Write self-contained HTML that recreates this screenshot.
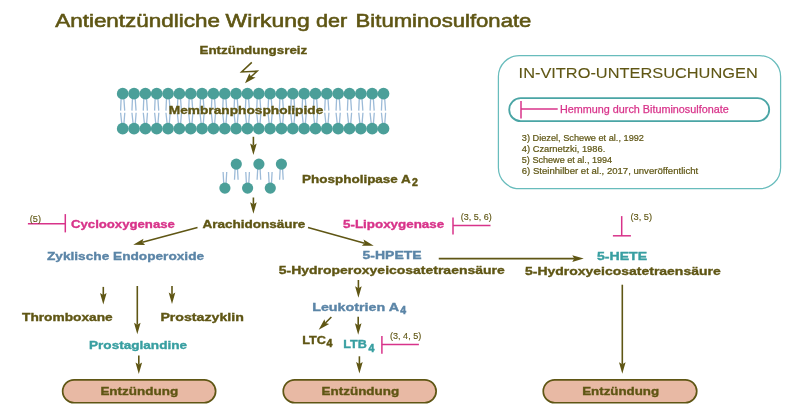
<!DOCTYPE html><html><head><meta charset="utf-8"><style>html,body{margin:0;padding:0;background:#fff;width:800px;height:419px;overflow:hidden}svg{display:block;will-change:transform}</style></head><body><svg width="800" height="419" viewBox="0 0 800 419" font-family='"Liberation Sans", sans-serif'><path d="M121.1,99 L120.6,110.6 M123.9,99 L124.7,110.6 M120.6,112.8 L121.8,124 M124.8,112.8 L123.9,124 M132.44,99 L131.94,110.6 M135.24,99 L136.04,110.6 M131.94,112.8 L133.14,124 M136.14,112.8 L135.24,124 M143.78,99 L143.28,110.6 M146.58,99 L147.38,110.6 M143.28,112.8 L144.48,124 M147.48,112.8 L146.58,124 M155.12,99 L154.62,110.6 M157.92,99 L158.72,110.6 M154.62,112.8 L155.82,124 M158.82,112.8 L157.92,124 M166.46,99 L165.96,110.6 M169.26,99 L170.06,110.6 M165.96,112.8 L167.16,124 M170.16,112.8 L169.26,124 M177.8,99 L177.3,110.6 M180.6,99 L181.4,110.6 M177.3,112.8 L178.5,124 M181.5,112.8 L180.6,124 M189.14,99 L188.64,110.6 M191.94,99 L192.74,110.6 M188.64,112.8 L189.84,124 M192.84,112.8 L191.94,124 M200.48,99 L199.98,110.6 M203.28,99 L204.08,110.6 M199.98,112.8 L201.18,124 M204.18,112.8 L203.28,124 M211.82,99 L211.32,110.6 M214.62,99 L215.42,110.6 M211.32,112.8 L212.52,124 M215.52,112.8 L214.62,124 M223.16,99 L222.66,110.6 M225.96,99 L226.76,110.6 M222.66,112.8 L223.86,124 M226.86,112.8 L225.96,124 M234.5,99 L234,110.6 M237.3,99 L238.1,110.6 M234,112.8 L235.2,124 M238.2,112.8 L237.3,124 M245.84,99 L245.34,110.6 M248.64,99 L249.44,110.6 M245.34,112.8 L246.54,124 M249.54,112.8 L248.64,124 M257.18,99 L256.68,110.6 M259.98,99 L260.78,110.6 M256.68,112.8 L257.88,124 M260.88,112.8 L259.98,124 M268.52,99 L268.02,110.6 M271.32,99 L272.12,110.6 M268.02,112.8 L269.22,124 M272.22,112.8 L271.32,124 M279.86,99 L279.36,110.6 M282.66,99 L283.46,110.6 M279.36,112.8 L280.56,124 M283.56,112.8 L282.66,124 M291.2,99 L290.7,110.6 M294,99 L294.8,110.6 M290.7,112.8 L291.9,124 M294.9,112.8 L294,124 M302.54,99 L302.04,110.6 M305.34,99 L306.14,110.6 M302.04,112.8 L303.24,124 M306.24,112.8 L305.34,124 M313.88,99 L313.38,110.6 M316.68,99 L317.48,110.6 M313.38,112.8 L314.58,124 M317.58,112.8 L316.68,124 M325.22,99 L324.72,110.6 M328.02,99 L328.82,110.6 M324.72,112.8 L325.92,124 M328.92,112.8 L328.02,124 M336.56,99 L336.06,110.6 M339.36,99 L340.16,110.6 M336.06,112.8 L337.26,124 M340.26,112.8 L339.36,124 M347.9,99 L347.4,110.6 M350.7,99 L351.5,110.6 M347.4,112.8 L348.6,124 M351.6,112.8 L350.7,124 M359.24,99 L358.74,110.6 M362.04,99 L362.84,110.6 M358.74,112.8 L359.94,124 M362.94,112.8 L362.04,124 M370.58,99 L370.08,110.6 M373.38,99 L374.18,110.6 M370.08,112.8 L371.28,124 M374.28,112.8 L373.38,124 M381.92,99 L381.42,110.6 M384.72,99 L385.52,110.6 M381.42,112.8 L382.62,124 M385.62,112.8 L384.72,124" stroke="#9dbbd8" stroke-width="1.3" fill="none"/><circle cx="122.7" cy="93.7" r="5.85" fill="#4b9f99"/><circle cx="122.7" cy="128.7" r="5.85" fill="#4b9f99"/><circle cx="134.04" cy="93.7" r="5.85" fill="#4b9f99"/><circle cx="134.04" cy="128.7" r="5.85" fill="#4b9f99"/><circle cx="145.38" cy="93.7" r="5.85" fill="#4b9f99"/><circle cx="145.38" cy="128.7" r="5.85" fill="#4b9f99"/><circle cx="156.72" cy="93.7" r="5.85" fill="#4b9f99"/><circle cx="156.72" cy="128.7" r="5.85" fill="#4b9f99"/><circle cx="168.06" cy="93.7" r="5.85" fill="#4b9f99"/><circle cx="168.06" cy="128.7" r="5.85" fill="#4b9f99"/><circle cx="179.4" cy="93.7" r="5.85" fill="#4b9f99"/><circle cx="179.4" cy="128.7" r="5.85" fill="#4b9f99"/><circle cx="190.74" cy="93.7" r="5.85" fill="#4b9f99"/><circle cx="190.74" cy="128.7" r="5.85" fill="#4b9f99"/><circle cx="202.08" cy="93.7" r="5.85" fill="#4b9f99"/><circle cx="202.08" cy="128.7" r="5.85" fill="#4b9f99"/><circle cx="213.42" cy="93.7" r="5.85" fill="#4b9f99"/><circle cx="213.42" cy="128.7" r="5.85" fill="#4b9f99"/><circle cx="224.76" cy="93.7" r="5.85" fill="#4b9f99"/><circle cx="224.76" cy="128.7" r="5.85" fill="#4b9f99"/><circle cx="236.1" cy="93.7" r="5.85" fill="#4b9f99"/><circle cx="236.1" cy="128.7" r="5.85" fill="#4b9f99"/><circle cx="247.44" cy="93.7" r="5.85" fill="#4b9f99"/><circle cx="247.44" cy="128.7" r="5.85" fill="#4b9f99"/><circle cx="258.78" cy="93.7" r="5.85" fill="#4b9f99"/><circle cx="258.78" cy="128.7" r="5.85" fill="#4b9f99"/><circle cx="270.12" cy="93.7" r="5.85" fill="#4b9f99"/><circle cx="270.12" cy="128.7" r="5.85" fill="#4b9f99"/><circle cx="281.46" cy="93.7" r="5.85" fill="#4b9f99"/><circle cx="281.46" cy="128.7" r="5.85" fill="#4b9f99"/><circle cx="292.8" cy="93.7" r="5.85" fill="#4b9f99"/><circle cx="292.8" cy="128.7" r="5.85" fill="#4b9f99"/><circle cx="304.14" cy="93.7" r="5.85" fill="#4b9f99"/><circle cx="304.14" cy="128.7" r="5.85" fill="#4b9f99"/><circle cx="315.48" cy="93.7" r="5.85" fill="#4b9f99"/><circle cx="315.48" cy="128.7" r="5.85" fill="#4b9f99"/><circle cx="326.82" cy="93.7" r="5.85" fill="#4b9f99"/><circle cx="326.82" cy="128.7" r="5.85" fill="#4b9f99"/><circle cx="338.16" cy="93.7" r="5.85" fill="#4b9f99"/><circle cx="338.16" cy="128.7" r="5.85" fill="#4b9f99"/><circle cx="349.5" cy="93.7" r="5.85" fill="#4b9f99"/><circle cx="349.5" cy="128.7" r="5.85" fill="#4b9f99"/><circle cx="360.84" cy="93.7" r="5.85" fill="#4b9f99"/><circle cx="360.84" cy="128.7" r="5.85" fill="#4b9f99"/><circle cx="372.18" cy="93.7" r="5.85" fill="#4b9f99"/><circle cx="372.18" cy="128.7" r="5.85" fill="#4b9f99"/><circle cx="383.52" cy="93.7" r="5.85" fill="#4b9f99"/><circle cx="383.52" cy="128.7" r="5.85" fill="#4b9f99"/><path d="M235.1,169 L234.5,179.8 M237.5,169 L238.1,179.8 M257.7,169 L257.1,179.8 M260.1,169 L260.7,179.8 M280.2,169 L279.6,179.8 M282.6,169 L283.2,179.8 M223.1,172 L223.7,183 M226.7,172 L226.1,183 M245.8,172 L246.4,183 M249.4,172 L248.8,183 M268.5,172 L269.1,183 M272.1,172 L271.5,183" stroke="#9dbbd8" stroke-width="1.3" fill="none"/><circle cx="236.3" cy="164.1" r="5.6" fill="#4b9f99"/><circle cx="258.9" cy="164.1" r="5.6" fill="#4b9f99"/><circle cx="281.4" cy="164.1" r="5.6" fill="#4b9f99"/><circle cx="224.9" cy="188.1" r="5.6" fill="#4b9f99"/><circle cx="247.6" cy="188.1" r="5.6" fill="#4b9f99"/><circle cx="270.3" cy="188.1" r="5.6" fill="#4b9f99"/><path d="M251.8,62.4 L241.6,71.9 L257.2,71.1 L249.4,78.3" stroke="#5f5614" stroke-width="1.5" fill="none" stroke-linejoin="miter"/><path d="M245,83.3 L249.3,73.6 L251.2,76.8 L255.6,77.4 Z" fill="#5f5614"/><line x1="253.4" y1="136.8" x2="253.4" y2="145.5" stroke="#5f5614" stroke-width="1.6"/><path d="M253.4,155 L250.1,143.5 L253.4,145.5 L256.7,143.5 Z" fill="#5f5614"/><line x1="253.4" y1="197.5" x2="253.4" y2="204.3" stroke="#5f5614" stroke-width="1.6"/><path d="M253.4,213.8 L250.1,202.3 L253.4,204.3 L256.7,202.3 Z" fill="#5f5614"/><line x1="197.5" y1="227.5" x2="142.37" y2="242.33" stroke="#5f5614" stroke-width="1.6"/><path d="M133.2,244.8 L143.45,238.63 L142.37,242.33 L145.16,245 Z" fill="#5f5614"/><line x1="308" y1="227.5" x2="364.6" y2="243.21" stroke="#5f5614" stroke-width="1.6"/><path d="M373.75,245.75 L361.79,245.85 L364.6,243.21 L363.55,239.49 Z" fill="#5f5614"/><line x1="438.75" y1="258.6" x2="574.25" y2="258.6" stroke="#5f5614" stroke-width="1.6"/><path d="M583.75,258.6 L572.25,261.9 L574.25,258.6 L572.25,255.3 Z" fill="#5f5614"/><line x1="358.4" y1="280" x2="358.4" y2="288.3" stroke="#5f5614" stroke-width="1.6"/><path d="M358.4,297.8 L355.1,286.3 L358.4,288.3 L361.7,286.3 Z" fill="#5f5614"/><line x1="358.2" y1="316.7" x2="358.2" y2="325.3" stroke="#5f5614" stroke-width="1.6"/><path d="M358.2,334.8 L354.9,323.3 L358.2,325.3 L361.5,323.3 Z" fill="#5f5614"/><line x1="331.4" y1="317" x2="325.39" y2="323.06" stroke="#5f5614" stroke-width="1.6"/><path d="M318.7,329.8 L324.46,319.31 L325.39,323.06 L329.14,323.96 Z" fill="#5f5614"/><line x1="359.4" y1="356.3" x2="359.4" y2="364.1" stroke="#5f5614" stroke-width="1.6"/><path d="M359.4,373.6 L356.1,362.1 L359.4,364.1 L362.7,362.1 Z" fill="#5f5614"/><line x1="622.3" y1="284.7" x2="622.3" y2="364.2" stroke="#5f5614" stroke-width="1.6"/><path d="M622.3,373.7 L619,362.2 L622.3,364.2 L625.6,362.2 Z" fill="#5f5614"/><line x1="103.3" y1="286.9" x2="103.3" y2="295.1" stroke="#5f5614" stroke-width="1.6"/><path d="M103.3,304.6 L100,293.1 L103.3,295.1 L106.6,293.1 Z" fill="#5f5614"/><line x1="137.3" y1="286" x2="137.3" y2="324.7" stroke="#5f5614" stroke-width="1.6"/><path d="M137.3,334.2 L134,322.7 L137.3,324.7 L140.6,322.7 Z" fill="#5f5614"/><line x1="172" y1="286" x2="172" y2="294.5" stroke="#5f5614" stroke-width="1.6"/><path d="M172,304 L168.7,292.5 L172,294.5 L175.3,292.5 Z" fill="#5f5614"/><line x1="138.8" y1="355.4" x2="138.8" y2="364.4" stroke="#5f5614" stroke-width="1.6"/><path d="M138.8,373.9 L135.5,362.4 L138.8,364.4 L142.1,362.4 Z" fill="#5f5614"/><line x1="27.9" y1="223.8" x2="65.3" y2="223.8" stroke="#d8338a" stroke-width="1.5"/><line x1="65.3" y1="214.1" x2="65.3" y2="232.4" stroke="#d8338a" stroke-width="1.5"/><line x1="453" y1="225.6" x2="490.5" y2="225.6" stroke="#d8338a" stroke-width="1.5"/><line x1="453" y1="217.5" x2="453" y2="234.5" stroke="#d8338a" stroke-width="1.5"/><line x1="381.9" y1="344.5" x2="418.9" y2="344.5" stroke="#d8338a" stroke-width="1.5"/><line x1="381.9" y1="335.9" x2="381.9" y2="353.7" stroke="#d8338a" stroke-width="1.5"/><line x1="621.7" y1="216.1" x2="621.7" y2="235.8" stroke="#d8338a" stroke-width="1.5"/><line x1="612.9" y1="235.8" x2="630.9" y2="235.8" stroke="#d8338a" stroke-width="1.5"/><rect x="62.65" y="379.85" width="153" height="22.9" rx="11.45" fill="#e8b9a4" stroke="#5f5614" stroke-width="1.7"/><rect x="283.25" y="379.85" width="152.9" height="22.9" rx="11.45" fill="#e8b9a4" stroke="#5f5614" stroke-width="1.7"/><rect x="543.25" y="379.85" width="153.5" height="22.9" rx="11.45" fill="#e8b9a4" stroke="#5f5614" stroke-width="1.7"/><rect x="498.4" y="55.6" width="282.2" height="133.1" rx="21" fill="none" stroke="#68bcbc" stroke-width="1.25"/><rect x="509.2" y="98.2" width="260" height="22.9" rx="11.45" fill="none" stroke="#4aa5a5" stroke-width="1.8"/><line x1="521" y1="109.1" x2="557.7" y2="109.1" stroke="#d8338a" stroke-width="1.5"/><line x1="521" y1="101" x2="521" y2="118.6" stroke="#d8338a" stroke-width="1.5"/><text x="55.2" y="27.2" font-size="17.7" font-weight="400" fill="#5f5614" stroke="#5f5614" stroke-width="0.55" textLength="164.81" lengthAdjust="spacingAndGlyphs">Antientzündliche</text><text x="225.6" y="27.2" font-size="17.7" font-weight="400" fill="#5f5614" stroke="#5f5614" stroke-width="0.55" textLength="84.28" lengthAdjust="spacingAndGlyphs">Wirkung</text><text x="316" y="27.2" font-size="17.7" font-weight="400" fill="#5f5614" stroke="#5f5614" stroke-width="0.55" textLength="31.25" lengthAdjust="spacingAndGlyphs">der</text><text x="355.6" y="27.2" font-size="17.7" font-weight="400" fill="#5f5614" stroke="#5f5614" stroke-width="0.55" textLength="175.81" lengthAdjust="spacingAndGlyphs">Bituminosulfonate</text><text x="199.5" y="54.25" font-size="11" font-weight="700" fill="#5f5614" stroke="#5f5614" stroke-width="0.35" textLength="107.72" lengthAdjust="spacingAndGlyphs">Entzündungsreiz</text><text x="168.8" y="114.1" font-size="11" font-weight="700" fill="#5f5614" stroke="#5f5614" stroke-width="0.35" textLength="154.48" lengthAdjust="spacingAndGlyphs">Membranphospholipide</text><text x="302" y="182.5" font-size="11" font-weight="700" fill="#5f5614" stroke="#5f5614" stroke-width="0.35" textLength="108.84" lengthAdjust="spacingAndGlyphs">Phospholipase A</text><text x="412" y="186.2" font-size="10.5" font-weight="700" fill="#5f5614" stroke="#5f5614" stroke-width="0.5">2</text><text x="202.4" y="228.1" font-size="11" font-weight="700" fill="#5f5614" stroke="#5f5614" stroke-width="0.35" textLength="102.97" lengthAdjust="spacingAndGlyphs">Arachidonsäure</text><text x="278.8" y="274.4" font-size="11" font-weight="700" fill="#5f5614" stroke="#5f5614" stroke-width="0.35" textLength="225.92" lengthAdjust="spacingAndGlyphs">5-Hydroperoxyeicosatetraensäure</text><text x="525" y="275.3" font-size="11" font-weight="700" fill="#5f5614" stroke="#5f5614" stroke-width="0.35" textLength="195.68" lengthAdjust="spacingAndGlyphs">5-Hydroxyeicosatetraensäure</text><text x="22" y="321.2" font-size="11" font-weight="700" fill="#5f5614" stroke="#5f5614" stroke-width="0.35" textLength="90.73" lengthAdjust="spacingAndGlyphs">Thromboxane</text><text x="160.4" y="320.8" font-size="11" font-weight="700" fill="#5f5614" stroke="#5f5614" stroke-width="0.35" textLength="83.45" lengthAdjust="spacingAndGlyphs">Prostazyklin</text><text x="302.2" y="343.7" font-size="11" font-weight="700" fill="#5f5614" stroke="#5f5614" stroke-width="0.35" textLength="23.78" lengthAdjust="spacingAndGlyphs">LTC</text><text x="326.4" y="347.2" font-size="10.5" font-weight="700" fill="#5f5614" stroke="#5f5614" stroke-width="0.5">4</text><text x="100.4" y="395.2" font-size="11" font-weight="700" fill="#5f5614" stroke="#5f5614" stroke-width="0.35" textLength="77.75" lengthAdjust="spacingAndGlyphs">Entzündung</text><text x="321.6" y="395.2" font-size="11" font-weight="700" fill="#5f5614" stroke="#5f5614" stroke-width="0.35" textLength="77.55" lengthAdjust="spacingAndGlyphs">Entzündung</text><text x="582.2" y="395.2" font-size="11" font-weight="700" fill="#5f5614" stroke="#5f5614" stroke-width="0.35" textLength="76.95" lengthAdjust="spacingAndGlyphs">Entzündung</text><text x="71" y="228" font-size="11" font-weight="700" fill="#d8338a" stroke="#d8338a" stroke-width="0.35" textLength="103.84" lengthAdjust="spacingAndGlyphs">Cyclooxygenase</text><text x="343" y="228.2" font-size="11" font-weight="700" fill="#d8338a" stroke="#d8338a" stroke-width="0.35" textLength="101.15" lengthAdjust="spacingAndGlyphs">5-Lipoxygenase</text><text x="47" y="260.3" font-size="11" font-weight="700" fill="#5b85a7" stroke="#5b85a7" stroke-width="0.35" textLength="157.07" lengthAdjust="spacingAndGlyphs">Zyklische Endoperoxide</text><text x="362.6" y="259.4" font-size="11" font-weight="700" fill="#5b85a7" stroke="#5b85a7" stroke-width="0.35" textLength="59.07" lengthAdjust="spacingAndGlyphs">5-HPETE</text><text x="312.2" y="311" font-size="11" font-weight="700" fill="#5b85a7" stroke="#5b85a7" stroke-width="0.35" textLength="86.83" lengthAdjust="spacingAndGlyphs">Leukotrien A</text><text x="400.2" y="314.3" font-size="10.5" font-weight="700" fill="#5b85a7" stroke="#5b85a7" stroke-width="0.5">4</text><text x="597" y="260.1" font-size="11" font-weight="700" fill="#389fa1" stroke="#389fa1" stroke-width="0.35" textLength="50.12" lengthAdjust="spacingAndGlyphs">5-HETE</text><text x="343.2" y="348.4" font-size="11" font-weight="700" fill="#389fa1" stroke="#389fa1" stroke-width="0.35" textLength="23.58" lengthAdjust="spacingAndGlyphs">LTB</text><text x="368.4" y="352" font-size="10.5" font-weight="700" fill="#389fa1" stroke="#389fa1" stroke-width="0.5">4</text><text x="89" y="348.5" font-size="11" font-weight="700" fill="#389fa1" stroke="#389fa1" stroke-width="0.35" textLength="98.07" lengthAdjust="spacingAndGlyphs">Prostaglandine</text><text x="29.8" y="221.7" font-size="8.2" font-weight="400" fill="#5f5614" stroke="#5f5614" stroke-width="0.12" textLength="11.23" lengthAdjust="spacingAndGlyphs">(5)</text><text x="460.8" y="220.1" font-size="8.2" font-weight="400" fill="#5f5614" stroke="#5f5614" stroke-width="0.12" textLength="31.02" lengthAdjust="spacingAndGlyphs">(3, 5, 6)</text><text x="630.4" y="219.6" font-size="8.2" font-weight="400" fill="#5f5614" stroke="#5f5614" stroke-width="0.12" textLength="21.74" lengthAdjust="spacingAndGlyphs">(3, 5)</text><text x="390" y="338.6" font-size="8.2" font-weight="400" fill="#5f5614" stroke="#5f5614" stroke-width="0.12" textLength="31.22" lengthAdjust="spacingAndGlyphs">(3, 4, 5)</text><text x="518.6" y="78.4" font-size="14.8" font-weight="400" fill="#5f5614" stroke="#5f5614" stroke-width="0.1" textLength="239.11" lengthAdjust="spacingAndGlyphs">IN-VITRO-UNTERSUCHUNGEN</text><text x="560" y="112.9" font-size="10.4" font-weight="400" fill="#d8338a" stroke="#d8338a" stroke-width="0.25" textLength="168.71" lengthAdjust="spacingAndGlyphs">Hemmung durch Bituminosulfonate</text><text x="521.8" y="140.9" font-size="8.8" font-weight="400" fill="#5f5614" stroke="#5f5614" stroke-width="0.2" textLength="122.19" lengthAdjust="spacingAndGlyphs">3) Diezel, Schewe et al., 1992</text><text x="521.8" y="151.8" font-size="8.8" font-weight="400" fill="#5f5614" stroke="#5f5614" stroke-width="0.2" textLength="83.44" lengthAdjust="spacingAndGlyphs">4) Czarnetzki, 1986.</text><text x="521.8" y="163" font-size="8.8" font-weight="400" fill="#5f5614" stroke="#5f5614" stroke-width="0.2" textLength="90.35" lengthAdjust="spacingAndGlyphs">5) Schewe et al., 1994</text><text x="521.8" y="174.1" font-size="8.8" font-weight="400" fill="#5f5614" stroke="#5f5614" stroke-width="0.2" textLength="176.4" lengthAdjust="spacingAndGlyphs">6) Steinhilber et al., 2017, unveröffentlicht</text></svg></body></html>
